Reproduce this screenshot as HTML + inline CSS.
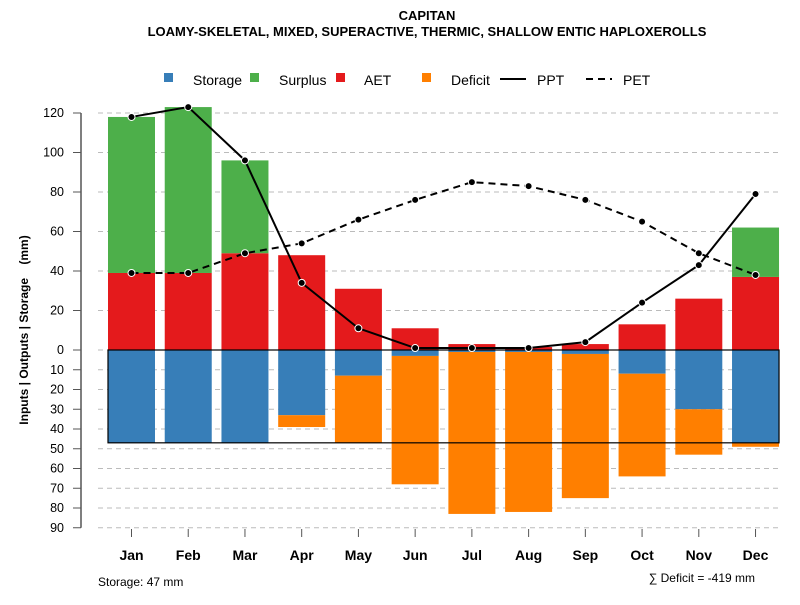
<!DOCTYPE html>
<html><head><meta charset="utf-8"><style>
body{margin:0;background:#fff;font-family:"Liberation Sans",Arial,sans-serif}
svg text{font-family:"Liberation Sans",Arial,sans-serif}
</style></head><body>
<svg id="c" width="800" height="600" viewBox="0 0 800 600">
<text x="427" y="20" text-anchor="middle" font-size="13" font-weight="bold">CAPITAN</text>
<text x="427" y="36" text-anchor="middle" font-size="13" font-weight="bold">LOAMY-SKELETAL, MIXED, SUPERACTIVE, THERMIC, SHALLOW ENTIC HAPLOXEROLLS</text>
<g font-size="14">
<g><rect x="164" y="73" width="9" height="9" fill="#377eb8"/><text x="193" y="85">Storage</text></g>
<g><rect x="250" y="73" width="9" height="9" fill="#4daf4a"/><text x="279" y="85">Surplus</text></g>
<g><rect x="336" y="73" width="9" height="9" fill="#e41a1c"/><text x="364" y="85">AET</text></g>
<g><rect x="422" y="73" width="9" height="9" fill="#ff7f00"/><text x="451" y="85">Deficit</text></g>
<g><line x1="500" y1="79" x2="526" y2="79" stroke="#000" stroke-width="2"/><text x="537" y="85">PPT</text></g>
<g><line x1="586" y1="79" x2="612" y2="79" stroke="#000" stroke-width="2" stroke-dasharray="7,5"/><text x="623" y="85">PET</text></g>
</g>
<text transform="translate(28,330) rotate(-90)" text-anchor="middle" font-size="12" font-weight="bold" xml:space="preserve" style="white-space:pre">Inputs | Outputs | Storage    (mm)</text>
<g id="grid"></g><g id="bars"></g><g id="lines"></g><g id="axes"></g>
<text x="98" y="586" font-size="12">Storage: 47 mm</text>
<text x="755" y="582" text-anchor="end" font-size="12">∑ Deficit = -419 mm</text>
</svg>
<script>
const months=["Jan","Feb","Mar","Apr","May","Jun","Jul","Aug","Sep","Oct","Nov","Dec"];
const aet=[39,39,49,48,31,11,3,1.5,3,13,26,37];
const surplus=[79,84,47,0,0,0,0,0,0,0,0,25];
const storage=[47,47,47,33,13,3,1,1,2,12,30,47];
const deficit=[0,0,0,6,34,65,82,81,73,52,23,2];
const ppt=[118,123,96,34,11,1,1,1,4,24,43,79];
const pet=[39,39,49,54,66,76,85,83,76,65,49,38];
const posTicks=[0,20,40,60,80,100,120];
const negTicks=[10,20,30,40,50,60,70,80,90];
const SC=1.975,Y0=350;
const y=v=>Y0-v*SC;
const x=i=>131.5+i*56.73;
const BW=47;
const NS="http://www.w3.org/2000/svg";
function mk(p,t,a){const e=document.createElementNS(NS,t);for(const k in a)e.setAttribute(k,a[k]);document.getElementById(p).appendChild(e);return e;}
function gl(v){mk('grid','line',{x1:98,x2:780,y1:y(v),y2:y(v),stroke:'#bbb','stroke-dasharray':'5,4'});}
posTicks.forEach(v=>gl(v));negTicks.forEach(v=>gl(-v));
months.forEach((m,i)=>{
 const l=x(i)-BW/2;
 let r=mk('bars','rect',{x:l,y:y(aet[i]),width:BW,height:aet[i]*SC,fill:'#e41a1c'});
 
 if(surplus[i]>0){r=mk('bars','rect',{x:l,y:y(aet[i]+surplus[i]),width:BW,height:surplus[i]*SC,fill:'#4daf4a'});
 }
 r=mk('bars','rect',{x:l,y:Y0,width:BW,height:storage[i]*SC,fill:'#377eb8'});
 
 if(deficit[i]>0){r=mk('bars','rect',{x:l,y:y(-storage[i]),width:BW,height:deficit[i]*SC,fill:'#ff7f00'});
 }
});
let box=mk('bars','rect',{x:x(0)-BW/2,y:Y0,width:x(11)+BW/2-(x(0)-BW/2),height:47*SC,fill:'none',stroke:'#000','stroke-width':1.2});


function series(arr,dash,name){
 const p=mk('lines','polyline',{points:arr.map((v,i)=>x(i)+','+y(v)).join(' '),fill:'none',stroke:'#000','stroke-width':2,'stroke-dasharray':dash});
 
 arr.forEach((v,i)=>{const c=mk('lines','circle',{cx:x(i),cy:y(v),r:3.5,fill:'#000',stroke:'#fff','stroke-width':1});
 });
}
series(ppt,'none','ppt');series(pet,'7,5','pet');
mk('axes','line',{x1:81,x2:81,y1:y(120),y2:y(-90),stroke:'#555','stroke-width':1.5});
function tk(v,lab){mk('axes','line',{x1:73,x2:81,y1:y(v),y2:y(v),stroke:'#555'});
 const t=mk('axes','text',{x:64,y:y(v)+4,'text-anchor':'end','font-size':12.5});t.textContent=lab;
 }
posTicks.forEach(v=>tk(v,v));negTicks.forEach(v=>tk(-v,v));
months.forEach((m,i)=>{mk('axes','line',{x1:x(i),x2:x(i),y1:529,y2:537,stroke:'#555'});
 const t=mk('axes','text',{x:x(i),y:560,'text-anchor':'middle','font-size':14,'font-weight':'bold'});t.textContent=m;
 });
</script>
</body></html>
